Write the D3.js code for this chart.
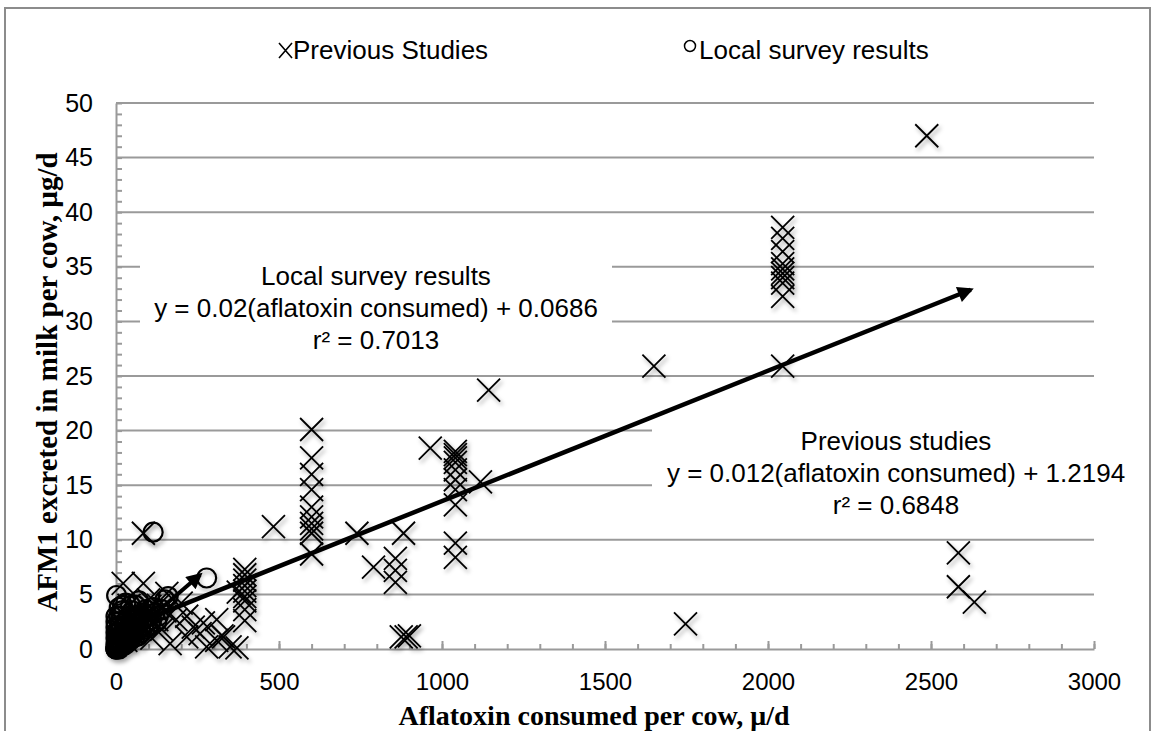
<!DOCTYPE html>
<html>
<head>
<meta charset="utf-8">
<script src="https://cdn.jsdelivr.net/npm/d3@7"></script>
<style>
  body { margin: 0; background: #fff; }
  text { font-family: "Liberation Sans", Arial, Helvetica, sans-serif; fill: #000; }
  .title { font-family: "Liberation Serif", "Times New Roman", serif; font-weight: bold; }
</style>
</head>
<body>
<div id="root"></div>
<script>
// Previous studies (aflatoxin consumed, AFM1 excreted)
const prevX = [2487, 2045, 2045, 2045, 2045, 2045, 2045, 2045, 2045, 2045, 2045,
  1650, 1143, 964, 1041, 1041, 1041, 1041, 1041, 1041, 1041, 1041, 1041, 1041,
  1118, 739, 882, 790, 857, 857, 857, 875, 890, 900, 1747, 2584, 2584, 2633,
  600, 600, 600, 600, 600, 600, 600, 600, 600, 600, 483,
  395, 395, 395, 395, 395, 395, 395, 395, 395, 375,
  22, 84, 84, 156, 217, 237, 217, 166, 258, 309, 309, 330, 278, 350, 268, 104, 125, 184, 325, 371,
  40, 60, 100, 130, 20, 50, 70, 140, 110, 30, 150, 200];
const prevY = [47.0, 38.6, 37.6, 36.4, 35.3, 34.8, 34.4, 34.0, 33.5, 32.3, 25.9,
  25.9, 23.7, 18.4, 18.1, 17.8, 17.5, 17.1, 16.4, 15.5, 14.6, 13.2, 9.7, 8.4,
  15.3, 10.6, 10.6, 7.5, 8.3, 7.2, 6.1, 1.1, 1.1, 1.2, 2.3, 8.8, 5.7, 4.3,
  20.1, 17.5, 16.0, 14.6, 13.0, 12.1, 11.5, 11.0, 10.6, 8.7, 11.2,
  7.3, 6.8, 6.3, 5.8, 5.3, 4.8, 4.4, 3.6, 2.6, 5.2,
  6.0, 6.0, 10.6, 5.1, 3.0, 2.0, 1.1, 0.5, 1.4, 2.7, 0.8, 1.1, 0.2, 0.2, 2.4, 3.9, 2.7, 2.7, 1.2, 0.1,
  4.0, 3.5, 4.5, 4.0, 2.0, 1.5, 2.5, 1.8, 1.0, 0.8, 3.5, 4.2];

// Local survey results
const localX = [0, 2, 4, 5, 8, 10, 12, 15, 18, 20, 22, 25, 28, 30, 33, 35, 38, 40, 45, 48,
  50, 55, 60, 65, 70, 75, 80, 85, 90, 95, 100, 110, 120, 130, 140,
  3, 6, 9, 12, 15, 18, 20, 8, 25, 30, 40, 50, 60, 70, 5, 14, 24, 35, 45, 55, 65,
  2, 114, 278, 150, 160,
  0, 0, 0, 0, 0, 0, 0, 1, 3, 6, 10, 14, 16, 22, 26, 28, 32, 36, 42, 44,
  52, 58, 62, 68, 72, 78, 82, 88, 92, 98, 105, 115, 125, 10, 30, 45, 0, 0, 5, 10];
const localY = [0, 0.1, 0.2, 0.05, 0.3, 0.2, 0.5, 0.4, 0.6, 0.3, 0.8, 0.7, 1.0, 0.5, 1.2, 0.9, 1.4, 1.0, 1.5, 1.2,
  1.8, 1.4, 2.0, 1.6, 2.3, 1.9, 2.6, 2.1, 2.8, 2.4, 3.0, 2.7, 3.3, 3.0, 3.6,
  1.0, 1.5, 2.0, 2.5, 3.0, 3.5, 4.0, 3.0, 2.0, 2.5, 3.0, 3.5, 4.0, 4.4, 0.8, 1.2, 1.6, 2.2, 2.6, 2.9, 3.1,
  4.9, 10.7, 6.5, 4.5, 4.8,
  0.5, 1.0, 1.5, 2.0, 2.5, 3.0, 0.2, 0.1, 0.4, 0.6, 0.9, 0.7, 1.8, 1.3, 2.4, 0.4, 1.7, 0.6, 2.0, 0.8,
  2.3, 1.1, 2.7, 1.2, 3.0, 1.5, 3.3, 1.8, 3.6, 2.0, 2.2, 3.8, 2.5, 3.8, 4.2, 4.0, 0, 0, 0, 0];

// trend arrows (start / end)
const prevTrendX = [100, 2622];
const prevTrendY = [2.8, 32.9];
const localTrendX = [40, 258];
const localTrendY = [1.2, 6.8];

const xTicks = [0, 500, 1000, 1500, 2000, 2500, 3000];
const yTicks = [0, 5, 10, 15, 20, 25, 30, 35, 40, 45, 50];

const svg = d3.select("#root")
  .append("svg")
  .attr("width", 1153)
  .attr("height", 731);

const defs = svg.append("defs");
const f = defs.append("filter").attr("id", "shadow")
  .attr("x", "-50%").attr("y", "-50%").attr("width", "200%").attr("height", "200%");
f.append("feDropShadow").attr("dx", 2).attr("dy", 3)
  .attr("stdDeviation", 2).attr("flood-color", "#000").attr("flood-opacity", 0.35);
defs.append("marker").attr("id", "head")
  .attr("viewBox", "0 0 10 10").attr("refX", 8).attr("refY", 5)
  .attr("markerUnits", "userSpaceOnUse")
  .attr("markerWidth", 20).attr("markerHeight", 16)
  .attr("orient", "auto")
  .append("path").attr("d", "M0,0 L10,5 L0,10 Z").attr("fill", "#000");

// outer frame
svg.append("rect")
  .attr("x", 5).attr("y", 8).attr("width", 1145).attr("height", 740)
  .attr("fill", "none").attr("stroke", "#8c8c8c").attr("stroke-width", 2);

const x = d3.scaleLinear().domain([0, 3000]).range([116, 1094]);
const y = d3.scaleLinear().domain([0, 50]).range([649, 103]);

// gridlines
svg.append("g").selectAll("line")
  .data(yTicks.slice(1))
  .enter().append("line")
    .attr("x1", x(0)).attr("x2", x(3000))
    .attr("y1", d => y(d)).attr("y2", d => y(d))
    .attr("stroke", "#9a9a9a").attr("stroke-width", 2);

// minor ticks
svg.append("g")
  .attr("transform", "translate(0," + y(0) + ")")
  .call(d3.axisBottom(x).tickValues(d3.range(0, 3001, 100)).tickSize(-5).tickSizeOuter(0).tickFormat(""))
  .call(g => g.select(".domain").remove());
svg.append("g")
  .attr("transform", "translate(" + x(0) + ",0)")
  .call(d3.axisLeft(y).tickValues(d3.range(0, 51, 1)).tickSize(-6).tickSizeOuter(0).tickFormat(""))
  .call(g => g.select(".domain").remove());

// major axes
const xAxis = svg.append("g")
  .attr("transform", "translate(0," + y(0) + ")")
  .call(d3.axisBottom(x).tickValues(xTicks).tickSize(-8).tickSizeOuter(0).tickPadding(24).tickFormat(d3.format("d")));
const yAxis = svg.append("g")
  .attr("transform", "translate(" + x(0) + ",0)")
  .call(d3.axisLeft(y).tickValues(yTicks).tickSize(0).tickSizeOuter(0).tickPadding(23).tickFormat(d3.format("d")));
svg.selectAll(".tick line").attr("stroke", "#9a9a9a").attr("stroke-width", 2);
svg.selectAll(".domain").attr("stroke", "#9a9a9a").attr("stroke-width", 2);
svg.selectAll(".tick text").attr("fill", "#000")
  .attr("font-family", "'Liberation Sans', Arial, sans-serif");
xAxis.selectAll(".tick text").attr("font-size", 24);
yAxis.selectAll(".tick text").attr("font-size", 25);

// annotation boxes hide the gridlines
svg.append("rect").attr("x", 140).attr("y", 255).attr("width", 472).attr("height", 102).attr("fill", "#fff");
svg.append("rect").attr("x", 652).attr("y", 420).attr("width", 490).attr("height", 105).attr("fill", "#fff");

// markers
const cross = 11.5;
svg.append("g").attr("filter", "url(#shadow)")
  .selectAll("path")
  .data(prevX.map((v, i) => [v, prevY[i]]))
  .enter().append("path")
    .attr("d", d => {
      const cx = x(d[0]), cy = y(d[1]);
      return "M" + (cx - cross) + "," + (cy - cross) + "L" + (cx + cross) + "," + (cy + cross) +
             "M" + (cx - cross) + "," + (cy + cross) + "L" + (cx + cross) + "," + (cy - cross);
    })
    .attr("stroke", "#000").attr("stroke-width", 1.8).attr("fill", "none");

svg.append("g").attr("filter", "url(#shadow)")
  .selectAll("circle")
  .data(localX.map((v, i) => [v, localY[i]]))
  .enter().append("circle")
    .attr("cx", d => x(d[0])).attr("cy", d => y(d[1])).attr("r", 9.5)
    .attr("stroke", "#000").attr("stroke-width", 2.2).attr("fill", "none");

// trend arrows
const line = d3.line().x(d => x(d[0])).y(d => y(d[1]));
svg.append("path")
  .attr("d", line(prevTrendX.map((v, i) => [v, prevTrendY[i]])))
  .attr("stroke", "#000").attr("stroke-width", 4.5).attr("fill", "none")
  .attr("marker-end", "url(#head)");
svg.append("path")
  .attr("d", line(localTrendX.map((v, i) => [v, localTrendY[i]])))
  .attr("stroke", "#000").attr("stroke-width", 4).attr("fill", "none")
  .attr("marker-end", "url(#head)");

// annotations
const localNote = ["Local survey results", "y = 0.02(aflatoxin consumed) + 0.0686", "r² = 0.7013"];
const prevNote = ["Previous studies", "y = 0.012(aflatoxin consumed) + 1.2194", "r² = 0.6848"];
svg.append("g").selectAll("text").data(localNote).enter().append("text")
  .attr("x", 376).attr("y", (d, i) => 285 + i * 32)
  .attr("text-anchor", "middle").attr("font-size", 26).text(d => d);
svg.append("g").selectAll("text").data(prevNote).enter().append("text")
  .attr("x", 896).attr("y", (d, i) => 450 + i * 32)
  .attr("text-anchor", "middle").attr("font-size", 26).text(d => d);

// legend
const lg = svg.append("g");
lg.append("path").attr("d", "M279,43L292,58M279,58L292,43").attr("stroke", "#000").attr("stroke-width", 1.6);
lg.append("text").attr("x", 293).attr("y", 59).attr("font-size", 26).text("Previous Studies");
lg.append("circle").attr("cx", 690).attr("cy", 46).attr("r", 5.5).attr("fill", "none").attr("stroke", "#000").attr("stroke-width", 1.5);
lg.append("text").attr("x", 699).attr("y", 59).attr("font-size", 26).text("Local survey results");

// axis titles
svg.append("text").attr("class", "title")
  .attr("x", 594).attr("y", 725).attr("text-anchor", "middle").attr("font-size", 28)
  .text("Aflatoxin consumed per cow, μ/d");
svg.append("text").attr("class", "title")
  .attr("transform", "translate(57,382) rotate(-90)")
  .attr("text-anchor", "middle").attr("font-size", 29)
  .text("AFM1 excreted in milk per cow, µg/d");
</script>
</body>
</html>
